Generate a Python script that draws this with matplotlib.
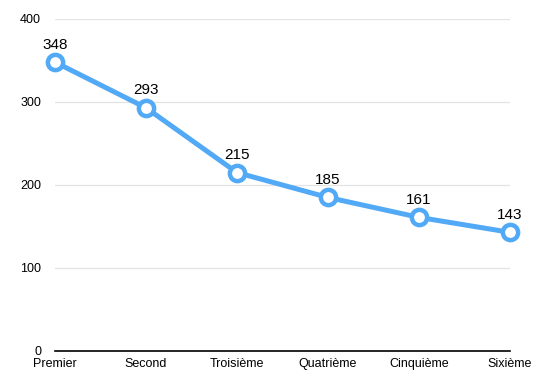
import matplotlib
matplotlib.use("Agg")
import matplotlib.pyplot as plt

plt.rcParams['font.family'] = ['Liberation Sans', 'DejaVu Sans']

categories = ["Premier", "Second", "Troisième", "Quatrième", "Cinquième", "Sixième"]
values = [348, 293, 215, 185, 161, 143]

fig = plt.figure(figsize=(5.59, 3.89), dpi=100)
ax = fig.add_axes([0.0984, 0.0977, 0.8136, 0.8535])

blue = "#52a9f6"
x = list(range(len(categories)))
ax.plot(x, values, color=blue, lw=3.6, marker='o', ms=11, mfc='white',
        mec=blue, mew=3.2, solid_capstyle='round', zorder=3, clip_on=False)

for xi, v in zip(x, values):
    ax.annotate(str(v), (xi, v), xytext=(0, 7.5), textcoords='offset points',
                ha='center', va='bottom', fontsize=11)

ax.set_xlim(0, len(categories) - 1)
ax.set_ylim(0, 400)
ax.set_yticks([0, 100, 200, 300, 400])
ax.set_xticks(x)
ax.set_xticklabels(categories)
ax.grid(axis='y', color='#e3e3e3', lw=0.9)
ax.set_axisbelow(True)
for s in ['top', 'right', 'left']:
    ax.spines[s].set_visible(False)
ax.spines['bottom'].set_color('black')
ax.spines['bottom'].set_linewidth(1.2)
ax.tick_params(axis='both', length=0, labelsize=9)
ax.tick_params(axis='y', pad=10)
ax.tick_params(axis='x', pad=5)

fig.savefig("out.png", dpi=100)
